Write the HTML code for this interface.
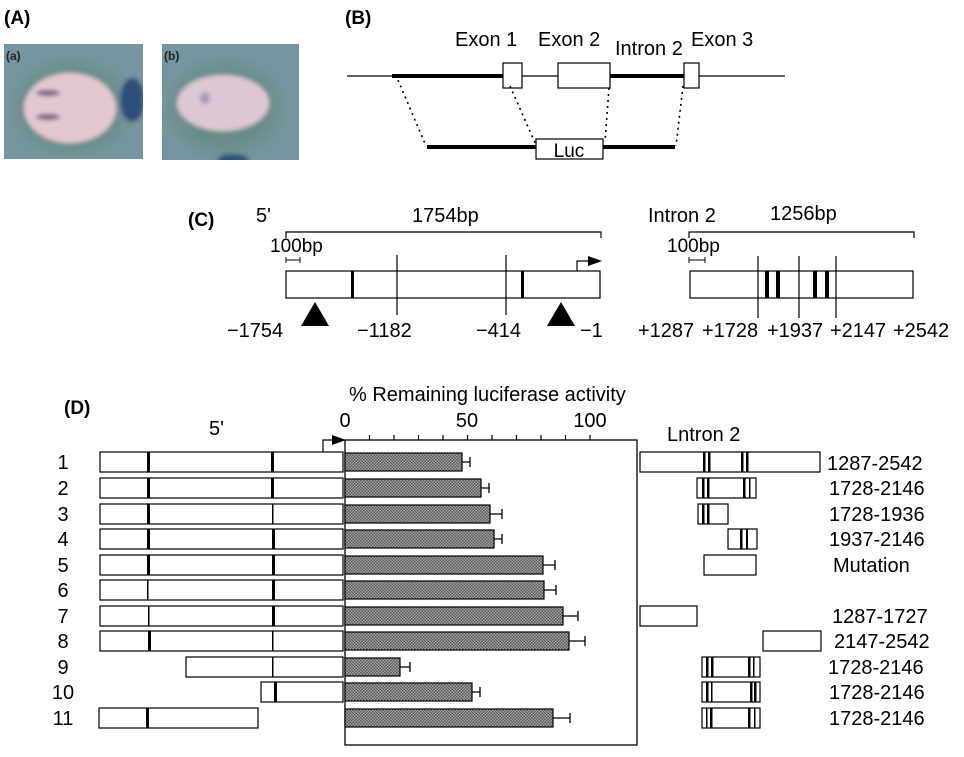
<!DOCTYPE html>
<html><head><meta charset="utf-8"><style>
body{margin:0;background:#fff;}
svg{display:block;font-family:"Liberation Sans",sans-serif;}
</style></head><body>
<svg width="964" height="757" viewBox="0 0 964 757" xmlns="http://www.w3.org/2000/svg">
<defs>
<pattern id="dots" width="3" height="3" patternUnits="userSpaceOnUse">
<rect width="3" height="3" fill="#a8a8a8"/><rect width="1.5" height="1.5" fill="#555"/><rect x="1.5" y="1.5" width="1.5" height="1.5" fill="#555"/>
</pattern>
<radialGradient id="halo" cx="0.5" cy="0.5" r="0.5"><stop offset="0.6" stop-color="#6a8c88"/><stop offset="1" stop-color="#7796a0"/></radialGradient>
<filter id="blur"><feGaussianBlur stdDeviation="2"/></filter>
<clipPath id="ca"><rect x="4" y="44" width="139" height="115"/></clipPath>
<clipPath id="cb"><rect x="162" y="44" width="137" height="116"/></clipPath>
</defs>
<!-- Panel A -->
<text x="4" y="24" font-size="19" font-weight="bold">(A)</text>
<rect x="4" y="44" width="139" height="115" fill="#7596a0"/>
<g filter="url(#blur)" clip-path="url(#ca)">
<ellipse cx="72" cy="108" rx="68" ry="56" fill="url(#halo)"/>
<ellipse cx="132" cy="100" rx="12" ry="22" fill="#2f4f7a"/>
<ellipse cx="70" cy="108" rx="46" ry="35" fill="#e2c9cf"/>
<ellipse cx="48" cy="93" rx="12" ry="3" fill="#6a5a8a"/>
<ellipse cx="48" cy="117" rx="12" ry="3" fill="#6a5a8a"/>
</g>
<text x="6" y="60" font-size="12" font-weight="bold" fill="#222">(a)</text>
<rect x="162" y="44" width="137" height="116" fill="#7596a0"/>
<g filter="url(#blur)" clip-path="url(#cb)">
<ellipse cx="225" cy="108" rx="68" ry="56" fill="url(#halo)"/>
<ellipse cx="233" cy="160" rx="16" ry="6" fill="#2f4f7a"/>
<ellipse cx="223" cy="103" rx="46" ry="28" fill="#dcc8d4"/>
<ellipse cx="205" cy="98" rx="5" ry="6" fill="#a898b8"/>
</g>
<text x="164" y="60" font-size="12" font-weight="bold" fill="#222">(b)</text>

<!-- Panel B -->
<text x="345" y="24" font-size="19" font-weight="bold">(B)</text>
<g font-size="20">
<text x="455" y="46">Exon 1</text>
<text x="538" y="46">Exon 2</text>
<text x="615" y="55">Intron 2</text>
<text x="691" y="46">Exon 3</text>
</g>
<line x1="347" y1="76" x2="785" y2="76" stroke="#000" stroke-width="1.2"/>
<line x1="392" y1="76" x2="503" y2="76" stroke="#000" stroke-width="4"/>
<line x1="610" y1="76" x2="685" y2="76" stroke="#000" stroke-width="4"/>
<rect x="503" y="63" width="19" height="25" fill="#fff" stroke="#000" stroke-width="1.2"/>
<rect x="558" y="63" width="52" height="25" fill="#fff" stroke="#000" stroke-width="1.2"/>
<rect x="684" y="63" width="15" height="25" fill="#fff" stroke="#000" stroke-width="1.2"/>
<g stroke="#000" stroke-width="1.6" stroke-dasharray="2,4" fill="none">
<line x1="398" y1="80" x2="426" y2="146"/>
<line x1="510" y1="86" x2="536" y2="145"/>
<line x1="609" y1="88" x2="605" y2="142"/>
<line x1="683" y1="86" x2="676" y2="146"/>
</g>
<line x1="427" y1="147" x2="537" y2="147" stroke="#000" stroke-width="4"/>
<line x1="603" y1="147" x2="675" y2="147" stroke="#000" stroke-width="4"/>
<rect x="536" y="139" width="67" height="20" fill="#fff" stroke="#000" stroke-width="1.2"/>
<text x="569" y="157" font-size="19" text-anchor="middle">Luc</text>

<!-- Panel C -->
<text x="188" y="226" font-size="19" font-weight="bold">(C)</text>
<text x="256" y="222" font-size="20">5'</text>
<text x="412" y="222" font-size="20">1754bp</text>
<path d="M286 238 V232 H601 V238" fill="none" stroke="#000" stroke-width="1.2"/>
<text x="270" y="252" font-size="19">100bp</text>
<path d="M286 257 V263 M286 260 H300 M300 257 V263" stroke="#000" stroke-width="1"/>
<rect x="286" y="271" width="314" height="27" fill="#fff" stroke="#000" stroke-width="1.2"/>
<rect x="351" y="271" width="3" height="27"/><rect x="521" y="271" width="3" height="27"/>
<line x1="397" y1="255" x2="397" y2="315" stroke="#000" stroke-width="1.2"/>
<line x1="506" y1="255" x2="506" y2="315" stroke="#000" stroke-width="1.2"/>
<path d="M577 271 V261 H590" fill="none" stroke="#000" stroke-width="1.2"/>
<polygon points="588,256 602,261 588,266"/>
<polygon points="315,302 301,326 329,326"/>
<polygon points="561,302 547,326 575,326"/>
<g font-size="20">
<text x="227" y="337">−1754</text><text x="357" y="337">−1182</text>
<text x="476" y="337">−414</text><text x="580" y="337">−1</text>
</g>
<text x="648" y="222" font-size="20">Intron 2</text>
<text x="770" y="220" font-size="20">1256bp</text>
<path d="M689 238 V232 H914 V238" fill="none" stroke="#000" stroke-width="1.2"/>
<text x="667" y="252" font-size="19">100bp</text>
<path d="M689 257 V263 M689 260 H705 M705 257 V263" stroke="#000" stroke-width="1"/>
<rect x="690" y="271" width="223" height="27" fill="#fff" stroke="#000" stroke-width="1.2"/>
<rect x="765" y="271" width="4" height="27"/><rect x="776" y="271" width="4" height="27"/>
<rect x="813" y="271" width="4" height="27"/><rect x="825" y="271" width="4" height="27"/>
<g stroke="#000" stroke-width="1.2"><line x1="758" y1="256" x2="758" y2="318"/><line x1="799" y1="256" x2="799" y2="318"/><line x1="836" y1="256" x2="836" y2="318"/></g>
<g font-size="20">
<text x="638" y="337">+1287</text><text x="702" y="337">+1728</text><text x="767" y="337">+1937</text><text x="830" y="337">+2147</text><text x="893" y="337">+2542</text>
</g>

<!-- Panel D -->
<text x="64" y="414" font-size="19" font-weight="bold">(D)</text>
<text x="349" y="401" font-size="20">% Remaining luciferase activity</text>
<g font-size="20" text-anchor="middle"><text x="345" y="427">0</text><text x="467" y="427">50</text><text x="590" y="427">100</text></g>
<text x="209" y="435" font-size="20">5'</text>
<text x="667" y="441" font-size="20">Lntron 2</text>
<rect x="345" y="440" width="292" height="305" fill="none" stroke="#000" stroke-width="1.3"/>
<g stroke="#000" stroke-width="1.2">
<line x1="369.5" y1="435" x2="369.5" y2="440"/><line x1="394" y1="435" x2="394" y2="440"/><line x1="418.5" y1="435" x2="418.5" y2="440"/><line x1="443" y1="435" x2="443" y2="440"/><line x1="467.5" y1="435" x2="467.5" y2="440"/><line x1="492" y1="435" x2="492" y2="440"/><line x1="516.5" y1="435" x2="516.5" y2="440"/><line x1="541" y1="435" x2="541" y2="440"/><line x1="565.5" y1="435" x2="565.5" y2="440"/><line x1="590" y1="435" x2="590" y2="440"/>
</g>
<path d="M323 452 V440 H334" fill="none" stroke="#000" stroke-width="1.2"/>
<polygon points="332,435 346,440 332,445"/>

<g font-size="20" text-anchor="middle">
<text x="63" y="469">1</text><text x="63" y="495">2</text><text x="63" y="521">3</text><text x="63" y="546">4</text>
<text x="63" y="572">5</text><text x="63" y="597">6</text><text x="63" y="623">7</text><text x="63" y="648">8</text>
<text x="63" y="674">9</text><text x="63" y="699">10</text><text x="63" y="725">11</text>
</g>
<g fill="#fff" stroke="#000" stroke-width="1.2">
<rect x="100" y="452" width="243" height="20"/><rect x="100" y="478" width="243" height="20"/>
<rect x="100" y="504" width="243" height="20"/><rect x="100" y="529" width="243" height="20"/>
<rect x="100" y="555" width="243" height="20"/><rect x="100" y="580" width="243" height="20"/>
<rect x="100" y="606" width="243" height="20"/><rect x="100" y="631" width="243" height="20"/>
<rect x="186" y="657" width="157" height="20"/><rect x="261" y="682" width="82" height="20"/>
<rect x="99" y="708" width="159" height="20"/>
</g>
<g fill="#000">
<rect x="147" y="452" width="3" height="20"/><rect x="271" y="452" width="3" height="20"/>
<rect x="147" y="478" width="3" height="20"/><rect x="271" y="478" width="3" height="20"/>
<rect x="147" y="504" width="3" height="20"/><rect x="272" y="504" width="1.5" height="20"/>
<rect x="147" y="529" width="3" height="20"/><rect x="272" y="529" width="3" height="20"/>
<rect x="147" y="555" width="3" height="20"/><rect x="272" y="555" width="3" height="20"/>
<rect x="147" y="580" width="1.5" height="20"/><rect x="272" y="580" width="3" height="20"/>
<rect x="148" y="606" width="1.5" height="20"/><rect x="272" y="606" width="3" height="20"/>
<rect x="148" y="631" width="3" height="20"/><rect x="272" y="631" width="1.5" height="20"/>
<rect x="272" y="657" width="1.5" height="20"/><rect x="274" y="682" width="3" height="20"/>
<rect x="146" y="708" width="3" height="20"/>
</g>
<g fill="url(#dots)" stroke="#000" stroke-width="1.2">
<rect x="345" y="453" width="117" height="18"/><rect x="345" y="479" width="136" height="18"/>
<rect x="345" y="505" width="145" height="18"/><rect x="345" y="530" width="149" height="18"/>
<rect x="345" y="556" width="198" height="18"/><rect x="345" y="581" width="199" height="18"/>
<rect x="345" y="607" width="218" height="18"/><rect x="345" y="632" width="224" height="18"/>
<rect x="345" y="658" width="55" height="18"/><rect x="345" y="683" width="127" height="18"/>
<rect x="345" y="709" width="208" height="18"/>
</g>
<g stroke="#000" stroke-width="1.3" fill="none">
<path d="M462 462 H470 M470 457 V467"/><path d="M481 488 H489 M489 483 V493"/>
<path d="M490 514 H502 M502 509 V519"/><path d="M494 539 H502 M502 534 V544"/>
<path d="M543 565 H555 M555 560 V570"/><path d="M544 590 H556 M556 585 V595"/>
<path d="M563 616 H578 M578 611 V621"/><path d="M569 641 H585 M585 636 V646"/>
<path d="M400 667 H410 M410 662 V672"/><path d="M472 692 H480 M480 687 V697"/>
<path d="M553 718 H570 M570 713 V723"/>
</g>
<g fill="#fff" stroke="#000" stroke-width="1.2">
<rect x="640" y="452" width="180" height="20"/><rect x="697" y="478" width="59" height="20"/>
<rect x="698" y="504" width="30" height="20"/><rect x="728" y="529" width="29" height="20"/>
<rect x="704" y="555" width="52" height="20"/><rect x="640" y="606" width="57" height="20"/>
<rect x="763" y="631" width="58" height="20"/><rect x="702" y="657" width="58" height="20"/>
<rect x="702" y="682" width="58" height="20"/><rect x="702" y="708" width="58" height="20"/>
</g>
<g fill="#000">
<rect x="703" y="452" width="2.5" height="20"/><rect x="708" y="452" width="2.5" height="20"/><rect x="741" y="452" width="2.5" height="20"/><rect x="746" y="452" width="2.5" height="20"/>
<rect x="702" y="478" width="2.5" height="20"/><rect x="707" y="478" width="2.5" height="20"/><rect x="743" y="478" width="2.5" height="20"/><rect x="749" y="478" width="1.5" height="20"/>
<rect x="702" y="504" width="2.5" height="20"/><rect x="707" y="504" width="2.5" height="20"/>
<rect x="740" y="529" width="2.5" height="20"/><rect x="746" y="529" width="2" height="20"/>
<rect x="706" y="657" width="2.5" height="20"/><rect x="711" y="657" width="2.5" height="20"/><rect x="748" y="657" width="2.5" height="20"/><rect x="753" y="657" width="1.5" height="20"/>
<rect x="706" y="682" width="2.5" height="20"/><rect x="711" y="682" width="1.5" height="20"/><rect x="750" y="682" width="2.5" height="20"/><rect x="754" y="682" width="2.5" height="20"/>
<rect x="706" y="708" width="1.5" height="20"/><rect x="710" y="708" width="2.5" height="20"/><rect x="748" y="708" width="2.5" height="20"/><rect x="754" y="708" width="1.5" height="20"/>
</g>
<g font-size="20">
<text x="827" y="470">1287-2542</text><text x="829" y="495">1728-2146</text>
<text x="829" y="521">1728-1936</text><text x="829" y="546">1937-2146</text>
<text x="833" y="572">Mutation</text><text x="832" y="623">1287-1727</text>
<text x="834" y="648">2147-2542</text><text x="828" y="674">1728-2146</text>
<text x="829" y="699">1728-2146</text><text x="829" y="725">1728-2146</text>
</g>
</svg>
</body></html>
